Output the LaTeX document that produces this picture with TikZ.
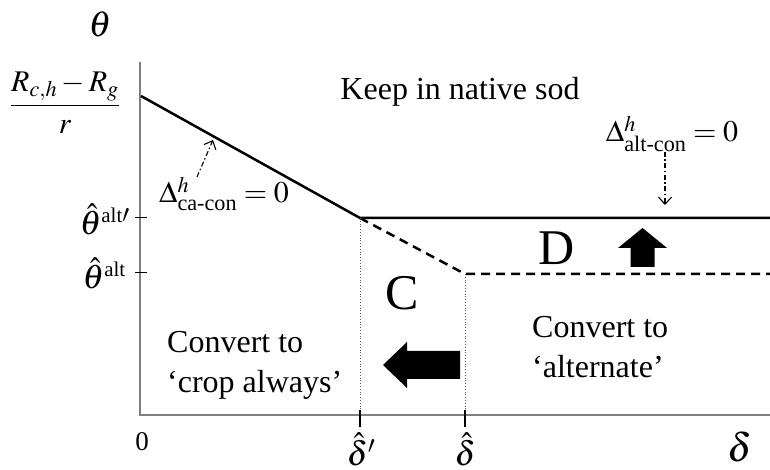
\documentclass[tikz,border=0pt]{standalone}
\usepackage{amsmath}
\usepackage{mathptmx}
\usepackage[no-math]{fontspec}
\setmainfont{Liberation Serif}
\usetikzlibrary{arrows.meta}

\newcommand{\supalt}{\text{\fontsize{21}{21}\selectfont alt}}

\begin{document}
\begin{tikzpicture}[x=1pt,y=1pt,
			every node/.style={inner sep=0pt},
			txt/.style={font=\fontsize{32}{40}\selectfont, align=left},
			mlbl/.style={font=\fontsize{30}{36}\selectfont},
			axlbl/.style={font=\fontsize{34}{40}\selectfont},
			biglbl/.style={font=\fontsize{50}{60}\selectfont},
			axis/.style={draw=gray, line width=1.3pt},
			bound/.style={line width=2.5pt},
			guide/.style={gray!70!black, line width=0.8pt, dotted},
			pointer/.style={line width=1.1pt,
				dash pattern=on 5pt off 2.5pt on 1.5pt off 2.5pt,
				-{Straight Barb[length=7pt,width=13pt]}}]
			
			\useasboundingbox (0,0) rectangle (770,470);
			
			% axes
			\coordinate (O) at (140,55);
			\coordinate (ytop) at (140,408);
			\coordinate (xend) at (770,55);
			\draw[axis] (ytop) -- (O) -- (xend);
			
			% boundaries
			\coordinate (start) at (141,374);
			\coordinate (kinkhi) at (360,252);
			\coordinate (kinklo) at (465,196);
			\coordinate (endhi) at (770,252);
			\coordinate (endlo) at (770,196);
			
			\draw[bound] (start) -- (kinkhi) -- (endhi);
			\draw[bound, dash pattern=on 9pt off 6pt] (kinkhi) -- (kinklo) -- (endlo);
			
			\draw[guide] (kinkhi) -- (kinkhi |- O);
			\draw[guide] (kinklo) -- (kinklo |- O);
			
			% ticks
			\draw[bound] ([yshift=5pt]kinkhi |- O) -- ([yshift=-12pt]kinkhi |- O);
			\draw[bound] ([yshift=5pt]kinklo |- O) -- ([yshift=-12pt]kinklo |- O);
			\draw[line width=1pt] ([xshift=-5pt]O |- kinkhi) -- ++(12,0);
			\draw[line width=1pt] ([xshift=-5pt]O |- 0,197) -- ++(12,0);
			
			% axis labels
			\node[font=\fontsize{36}{42}\selectfont, anchor=base] (theta) at (100,433) {$\theta$};
			\node[mlbl] (intercept) at (65,367) {$\displaystyle\frac{R_{c,h}-R_g}{r}$};
			\node[axlbl, anchor=base east] (thaltp) at (130,235) {$\hat{\theta}^{\supalt\prime}$};
			\node[axlbl, anchor=base east] (thalt) at (126,181) {$\hat{\theta}^{\supalt}$};
			\node[font=\fontsize{27}{32}\selectfont] (zero) at (142,28) {0};
			\node[axlbl, anchor=base] (dhatp) at (361,4) {$\hat{\delta}'$};
			\node[axlbl, anchor=base] (dhat) at (465,4) {$\hat{\delta}$};
			\node[font=\fontsize{40}{46}\selectfont, anchor=base] (delta) at (740,8) {$\delta$};
			
			% regions
			\node[txt, anchor=base] (sod) at (460,370) {Keep in native sod};
			\node[txt, anchor=west] (cropalw) at (167,105) {Convert to\\‘crop always’};
			\node[txt, anchor=west] (altern) at (532,123) {Convert to\\‘alternate’};
			\node[biglbl] (regc) at (402,177) {C};
			\node[biglbl] (regd) at (557,222) {D};
			
			% boundary labels
			\node[mlbl, anchor=base] (cacon) at (224,267) {$\Delta^{h}_{\text{ca-con}}=0$};
			\node[mlbl, anchor=base] (altcon) at (672,328) {$\Delta^{h}_{\text{alt-con}}=0$};
			\coordinate (cafrom) at (197,293);
			\coordinate (cato) at (213,330);
			\coordinate (altfrom) at (665,318);
			\coordinate (altto) at (665,265);
			\draw[pointer] (cafrom) -- (cato);
			\draw[pointer] (altfrom) -- (altto);
			
			% block arrows
			\coordinate (uptip) at (642.5,242);
			\coordinate (lefttip) at (383,105);
			\fill (uptip) -- ++(24.5,-20) -- ++(-12.5,0) -- ++(0,-19) -- ++(-24,0)
				-- ++(0,19) -- ++(-12.5,0) -- cycle;
			\fill (lefttip) -- ++(24,23) -- ++(0,-9) -- ++(53,0) -- ++(0,-28)
				-- ++(-53,0) -- ++(0,-9) -- cycle;
			
		\end{tikzpicture}
\end{document}
